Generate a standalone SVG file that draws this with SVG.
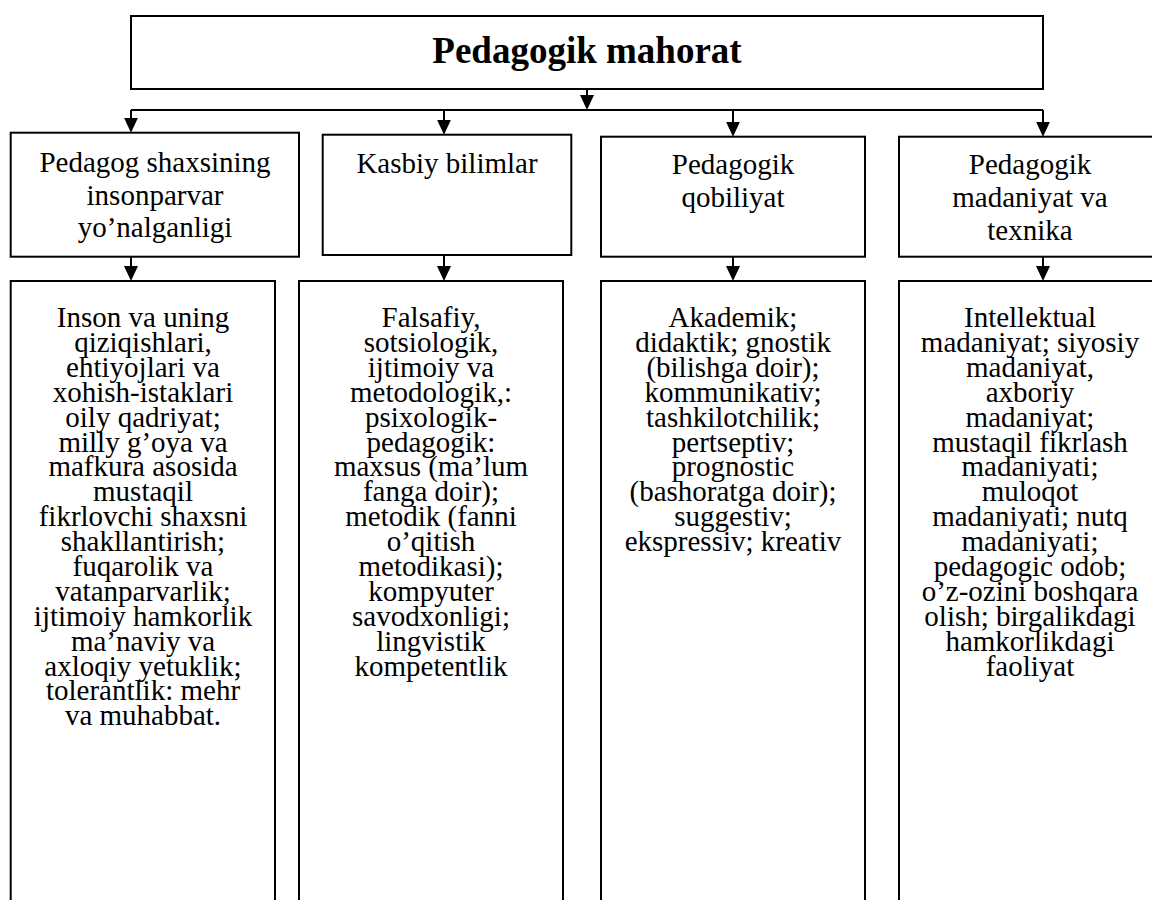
<svg xmlns="http://www.w3.org/2000/svg" width="1152" height="900" viewBox="0 0 1152 900">
<style>
.box{fill:#fff;stroke:#000;stroke-width:2}
.t{font-family:"Liberation Serif","Times New Roman",serif;font-size:29px;fill:#000;text-anchor:middle}
.title{font-family:"Liberation Serif","Times New Roman",serif;font-size:37px;font-weight:bold;fill:#000;text-anchor:middle}
.c{fill:none;stroke:#000;stroke-width:2}
</style>
<defs>
<marker id="ah" viewBox="0 0 15 14" refX="12" refY="7" markerWidth="15" markerHeight="14" markerUnits="userSpaceOnUse" orient="auto"><path d="M0,0 L15,7 L0,14 Z" fill="#000"/></marker>
</defs>
<rect width="1152" height="900" fill="#fff"/>
<g id="connectors">
<path class="c" d="M587,89 V107" marker-end="url(#ah)"/>
<path class="c" d="M131,110 H1043"/>
<path class="c" d="M131,110 V129.7" marker-end="url(#ah)"/>
<path class="c" d="M444,110 V131.7" marker-end="url(#ah)"/>
<path class="c" d="M733,110 V133.7" marker-end="url(#ah)"/>
<path class="c" d="M1043,110 V133.7" marker-end="url(#ah)"/>
<path class="c" d="M131,256.7 V278" marker-end="url(#ah)"/>
<path class="c" d="M444,255 V278" marker-end="url(#ah)"/>
<path class="c" d="M733,256.7 V278" marker-end="url(#ah)"/>
<path class="c" d="M1043,256.7 V278" marker-end="url(#ah)"/>
</g>
<g id="root">
<rect class="box" x="131" y="16" width="912" height="73"/>
<text class="title" x="587" y="63">Pedagogik mahorat</text>
</g>
<g id="n1">
<rect class="box" x="10.7" y="132.7" width="288.3" height="124"/>
<text class="t"><tspan x="155" y="172">Pedagog shaxsining</tspan><tspan x="155" y="204.5">insonparvar</tspan><tspan x="155" y="237">yo’nalganligi</tspan></text>
</g>
<g id="n2">
<rect class="box" x="322.7" y="134.7" width="248.6" height="120.3"/>
<text class="t"><tspan x="447" y="173">Kasbiy bilimlar</tspan></text>
</g>
<g id="n3">
<rect class="box" x="601" y="136.7" width="264" height="120"/>
<text class="t"><tspan x="733" y="174">Pedagogik</tspan><tspan x="733" y="207">qobiliyat</tspan></text>
</g>
<g id="n4">
<rect class="box" x="899" y="136.7" width="262" height="120"/>
<text class="t"><tspan x="1030" y="174">Pedagogik</tspan><tspan x="1030" y="207">madaniyat va</tspan><tspan x="1030" y="240">texnika</tspan></text>
</g>
<g id="d1">
<rect class="box" x="10.7" y="281" width="264.3" height="640"/>
<text class="t"><tspan x="143" y="327">Inson va uning</tspan><tspan x="143" dy="24.9">qiziqishlari,</tspan><tspan x="143" dy="24.9">ehtiyojlari va</tspan><tspan x="143" dy="24.9">xohish-istaklari</tspan><tspan x="143" dy="24.9">oily qadriyat;</tspan><tspan x="143" dy="24.9">milly g’oya va</tspan><tspan x="143" dy="24.9">mafkura asosida</tspan><tspan x="143" dy="24.9">mustaqil</tspan><tspan x="143" dy="24.9">fikrlovchi shaxsni</tspan><tspan x="143" dy="24.9">shakllantirish;</tspan><tspan x="143" dy="24.9">fuqarolik va</tspan><tspan x="143" dy="24.9">vatanparvarlik;</tspan><tspan x="143" dy="24.9">ijtimoiy hamkorlik</tspan><tspan x="143" dy="24.9">ma’naviy va</tspan><tspan x="143" dy="24.9">axloqiy yetuklik;</tspan><tspan x="143" dy="24.9">tolerantlik: mehr</tspan><tspan x="143" dy="24.9">va muhabbat.</tspan></text>
</g>
<g id="d2">
<rect class="box" x="299" y="281" width="264" height="640"/>
<text class="t"><tspan x="431" y="327">Falsafiy,</tspan><tspan x="431" dy="24.9">sotsiologik,</tspan><tspan x="431" dy="24.9">ijtimoiy va</tspan><tspan x="431" dy="24.9">metodologik,:</tspan><tspan x="431" dy="24.9">psixologik-</tspan><tspan x="431" dy="24.9">pedagogik:</tspan><tspan x="431" dy="24.9">maxsus (ma’lum</tspan><tspan x="431" dy="24.9">fanga doir);</tspan><tspan x="431" dy="24.9">metodik (fanni</tspan><tspan x="431" dy="24.9">o’qitish</tspan><tspan x="431" dy="24.9">metodikasi);</tspan><tspan x="431" dy="24.9">kompyuter</tspan><tspan x="431" dy="24.9">savodxonligi;</tspan><tspan x="431" dy="24.9">lingvistik</tspan><tspan x="431" dy="24.9">kompetentlik</tspan></text>
</g>
<g id="d3">
<rect class="box" x="601" y="281" width="264" height="640"/>
<text class="t"><tspan x="733" y="327">Akademik;</tspan><tspan x="733" dy="24.9">didaktik; gnostik</tspan><tspan x="733" dy="24.9">(bilishga doir);</tspan><tspan x="733" dy="24.9">kommunikativ;</tspan><tspan x="733" dy="24.9">tashkilotchilik;</tspan><tspan x="733" dy="24.9">pertseptiv;</tspan><tspan x="733" dy="24.9">prognostic</tspan><tspan x="733" dy="24.9">(bashoratga doir);</tspan><tspan x="733" dy="24.9">suggestiv;</tspan><tspan x="733" dy="24.9">ekspressiv; kreativ</tspan></text>
</g>
<g id="d4">
<rect class="box" x="899" y="281" width="262" height="640"/>
<text class="t"><tspan x="1030" y="327">Intellektual</tspan><tspan x="1030" dy="24.9">madaniyat; siyosiy</tspan><tspan x="1030" dy="24.9">madaniyat,</tspan><tspan x="1030" dy="24.9">axboriy</tspan><tspan x="1030" dy="24.9">madaniyat;</tspan><tspan x="1030" dy="24.9">mustaqil fikrlash</tspan><tspan x="1030" dy="24.9">madaniyati;</tspan><tspan x="1030" dy="24.9">muloqot</tspan><tspan x="1030" dy="24.9">madaniyati; nutq</tspan><tspan x="1030" dy="24.9">madaniyati;</tspan><tspan x="1030" dy="24.9">pedagogic odob;</tspan><tspan x="1030" dy="24.9">o’z-ozini boshqara</tspan><tspan x="1030" dy="24.9">olish; birgalikdagi</tspan><tspan x="1030" dy="24.9">hamkorlikdagi</tspan><tspan x="1030" dy="24.9">faoliyat</tspan></text>
</g>
</svg>
